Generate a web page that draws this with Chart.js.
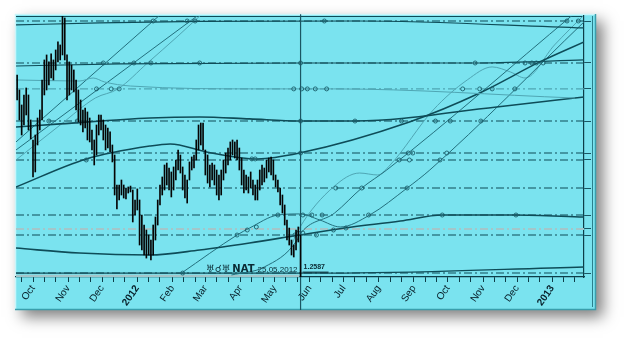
<!DOCTYPE html>
<html>
<head>
<meta charset="utf-8">
<script src="https://cdn.jsdelivr.net/npm/chart.js@4/dist/chart.umd.min.js"></script>
<style>
  html, body { margin: 0; padding: 0; background: #ffffff; }
  #chart { display: block; }
</style>
</head>
<body>
<canvas id="chart" width="625" height="339"></canvas>
<script>
// Trục thời gian: số ngày kể từ 01.10.2011
const dayMin = -15;
const dayMax = 486;
const monthLabels = ['Oct', 'Nov', 'Dec', '2012', 'Feb', 'Mar', 'Apr', 'May', 'Jun', 'Jul', 'Aug', 'Sep', 'Oct', 'Nov', 'Dec', '2013'];
const monthStartDays = [0, 31, 61, 92, 123, 152, 183, 213, 244, 274, 305, 336, 366, 397, 427, 458];

// Trục giá
const priceMin = 1.2512;
const priceMax = 1.4234;

// Giá (thanh cao - thấp), mỗi 2 ngày
const priceDays = [-14, -12, -10, -8, -6, -4, -2, 0, 2, 4, 6, 8, 10, 12, 14, 16, 18, 20, 22, 24,
  26, 28, 30, 32, 34, 36, 38, 40, 42, 44, 46, 48, 50, 52, 54, 56, 58, 60, 62, 64,
  66, 68, 70, 72, 74, 76, 78, 80, 82, 84, 86, 88, 90, 92, 94, 96, 98, 100, 102, 104,
  106, 108, 110, 112, 114, 116, 118, 120, 122, 124, 126, 128, 130, 132, 134, 136, 138, 140, 142, 144,
  146, 148, 150, 152, 154, 156, 158, 160, 162, 164, 166, 168, 170, 172, 174, 176, 178, 180, 182, 184,
  186, 188, 190, 192, 194, 196, 198, 200, 202, 204, 206, 208, 210, 212, 214, 216, 218, 220, 222, 224,
  226, 228, 230, 232, 234, 236];
const priceHigh = [1.3845, 1.3746, 1.3647, 1.3713, 1.3759, 1.3713, 1.3548, 1.3416, 1.3449, 1.3561, 1.3614, 1.3812, 1.3944, 1.3977, 1.3931, 1.3984, 1.3944, 1.4010, 1.4063, 1.4043,
  1.4241, 1.4221, 1.3977, 1.3931, 1.3911, 1.3878, 1.3812, 1.3746, 1.3680, 1.3614, 1.3627, 1.3601, 1.3561, 1.3482, 1.3416, 1.3515, 1.3581, 1.3581, 1.3548, 1.3515,
  1.3495, 1.3469, 1.3383, 1.3317, 1.3119, 1.3119, 1.3152, 1.3119, 1.3099, 1.3106, 1.3112, 1.3086, 1.3020, 1.3093, 1.3020, 1.2921, 1.2855, 1.2822, 1.2789, 1.2756,
  1.2855, 1.2908, 1.3020, 1.3119, 1.3172, 1.3251, 1.3264, 1.3231, 1.3205, 1.3238, 1.3284, 1.3350, 1.3317, 1.3238, 1.3185, 1.3152, 1.3271, 1.3304, 1.3317, 1.3416,
  1.3515, 1.3528, 1.3528, 1.3350, 1.3317, 1.3251, 1.3264, 1.3251, 1.3218, 1.3185, 1.3218, 1.3284, 1.3330, 1.3363, 1.3403, 1.3416, 1.3403, 1.3416, 1.3363, 1.3297,
  1.3218, 1.3185, 1.3172, 1.3205, 1.3152, 1.3119, 1.3152, 1.3218, 1.3251, 1.3231, 1.3284, 1.3297, 1.3304, 1.3284, 1.3185, 1.3152, 1.3099, 1.3053, 1.2987, 1.2888,
  1.2835, 1.2756, 1.2723, 1.2822, 1.2842, 1.2789];
const priceLow = [1.3680, 1.3548, 1.3449, 1.3515, 1.3581, 1.3482, 1.3423, 1.3172, 1.3205, 1.3383, 1.3482, 1.3548, 1.3713, 1.3746, 1.3779, 1.3825, 1.3812, 1.3878, 1.3931, 1.3944,
  1.3977, 1.3944, 1.3680, 1.3713, 1.3746, 1.3733, 1.3614, 1.3535, 1.3515, 1.3469, 1.3495, 1.3416, 1.3403, 1.3350, 1.3251, 1.3317, 1.3449, 1.3482, 1.3416, 1.3350,
  1.3363, 1.3337, 1.3271, 1.3053, 1.2961, 1.3020, 1.3053, 1.3033, 1.3027, 1.3066, 1.3073, 1.2875, 1.2921, 1.2954, 1.2723, 1.2690, 1.2657, 1.2637, 1.2657, 1.2624,
  1.2657, 1.2756, 1.2855, 1.2987, 1.3053, 1.3086, 1.3119, 1.3086, 1.3040, 1.3086, 1.3152, 1.3218, 1.3198, 1.3086, 1.3033, 1.3000, 1.3152, 1.3218, 1.3231, 1.3284,
  1.3350, 1.3383, 1.3350, 1.3185, 1.3132, 1.3106, 1.3152, 1.3119, 1.3053, 1.3020, 1.3053, 1.3152, 1.3198, 1.3251, 1.3284, 1.3317, 1.3297, 1.3284, 1.3218, 1.3119,
  1.3066, 1.3086, 1.3066, 1.3099, 1.3053, 1.3020, 1.3020, 1.3086, 1.3119, 1.3139, 1.3165, 1.3205, 1.3185, 1.3152, 1.3106, 1.3073, 1.2987, 1.2934, 1.2855, 1.2756,
  1.2723, 1.2657, 1.2644, 1.2690, 1.2743, 1.2512];

// Các mức ngang
const levelPrices = [1.4201, 1.3924, 1.3753, 1.3541, 1.3330, 1.3284, 1.3099, 1.2921, 1.2829, 1.2789, 1.2538];
const levelKinds = ['dark', 'dark', 'light', 'dark', 'dark', 'dark', 'dark', 'dark', 'pale', 'dark', 'dark'];

// Các đường cong
const c1Days = [-15, 59, 147, 286, 486];
const c1Prices = [1.4175, 1.4188, 1.4198, 1.4201, 1.4155];
const c2Days = [-15, 77, 235, 394, 486];
const c2Prices = [1.3904, 1.3918, 1.3924, 1.3924, 1.3944];
const c3Days = [-15, 41, 53, 63, 86, 200, 265, 478];
const c3Prices = [1.3812, 1.3805, 1.3825, 1.3799, 1.3772, 1.3753, 1.3753, 1.3693];
const c4Days = [-15, 24, 103, 147, 191, 235, 284, 409, 486];
const c4Prices = [1.3502, 1.3522, 1.3561, 1.3568, 1.3555, 1.3541, 1.3541, 1.3634, 1.3700];
const c5Days = [-15, 47, 103, 121, 153, 198, 235, 332, 394, 447, 486];
const c5Prices = [1.3106, 1.3291, 1.3376, 1.3390, 1.3337, 1.3291, 1.3330, 1.3535, 1.3726, 1.3931, 1.4063];
const c6Days = [-15, 41, 103, 147, 191, 235, 275, 324, 361, 425, 486];
const c6Prices = [1.2703, 1.2670, 1.2657, 1.2690, 1.2736, 1.2789, 1.2835, 1.2881, 1.2921, 1.2921, 1.2908];
const c7Days = [131, 180, 191, 216, 235, 253, 271, 297, 330, 350, 486];
const c7Prices = [1.2538, 1.2789, 1.2835, 1.2921, 1.2928, 1.2888, 1.2842, 1.2921, 1.3099, 1.3218, 1.4195];
const c8Days = [175, 204, 233, 235, 266, 290, 312, 476];
const c8Prices = [1.2525, 1.2578, 1.2756, 1.2789, 1.2934, 1.3099, 1.3218, 1.4241];
const c9Days = [228, 235, 265, 288, 304, 315, 353, 383, 405, 421, 434, 460, 486];
const c9Prices = [1.2723, 1.2835, 1.3106, 1.3198, 1.3185, 1.3251, 1.3614, 1.3812, 1.3898, 1.3865, 1.3825, 1.4043, 1.4241];
const d1Days = [-15, 112];
const d1Prices = [1.3403, 1.4241];
const d2Days = [-15, 146];
const d2Prices = [1.3350, 1.4241];
const d3Days = [-15, 24, 55, 75, 101, 127, 150];
const d3Prices = [1.3284, 1.3515, 1.3693, 1.3753, 1.3924, 1.4096, 1.4254];
const b1Days = [-15, 275, 486];
const b1Prices = [1.2538, 1.2538, 1.2578];
const b2Days = [-15, 235];
const b2Prices = [1.2518, 1.2518];

// Các điểm tròn nhỏ
const markerDays = [106, 136, 143, 257, 471, 481,
  62, 89, 104, 147, 236, 390, 434, 440, 444, 450,
  56, 69, 76, 230, 237, 242, 249, 259, 379, 394, 405, 425,
  14, 39, 236, 284, 325, 355, 368, 395,
  236, 331, 335, 365, 47, 323, 332, 359,
  267, 290, 330,
  216, 238, 246, 255, 296, 361, 426,
  180, 189, 197, 231, 234, 238, 250, 265, 276,
  193, 196, 132];
const markerPrices = [1.4201, 1.4201, 1.4201, 1.4201, 1.4201, 1.4201,
  1.3924, 1.3924, 1.3924, 1.3924, 1.3924, 1.3924, 1.3924, 1.3924, 1.3924, 1.3924,
  1.3753, 1.3753, 1.3753, 1.3753, 1.3753, 1.3753, 1.3753, 1.3753, 1.3753, 1.3753, 1.3753, 1.3753,
  1.3541, 1.3541, 1.3541, 1.3541, 1.3541, 1.3541, 1.3541, 1.3541,
  1.3330, 1.3330, 1.3330, 1.3330, 1.3284, 1.3284, 1.3284, 1.3284,
  1.3099, 1.3099, 1.3099,
  1.2921, 1.2921, 1.2921, 1.2921, 1.2921, 1.2921, 1.2921,
  1.2789, 1.2822, 1.2842, 1.2789, 1.2802, 1.2802, 1.2789, 1.2822, 1.2835,
  1.3291, 1.3291, 1.2538];

// Sự kiện
const eventDay = 236;
const eventPrice = 1.2587;
const eventLineTop = 1.4245;
const eventLineBottom = 1.2295;
const eventSymbol = '♅☌♅';
const eventName = 'NAT';
const eventDate = '25.05.2012';
const eventValue = '1.2587';

const darkLine = '#0e4c58';
const midLine = '#23707e';
const lightLine = '#4fa6b4';
const paleLine = '#a3c6ca';

function toPoints(days, prices) {
    return days.map((d, i) => ({ x: d, y: prices[i] }));
}

function curve(days, prices, color, width) {
    return {
        type: 'line',
        data: toPoints(days, prices),
        borderColor: color,
        borderWidth: width,
        pointRadius: 0,
        fill: false,
        cubicInterpolationMode: 'monotone'
    };
}

// Các mức ngang dạng gạch - chấm
const levelSets = levelPrices.map((p, i) => {
    const kind = levelKinds[i];
    return {
        type: 'line',
        data: [{ x: dayMin, y: p }, { x: dayMax, y: p }],
        borderColor: kind === 'dark' ? darkLine : (kind === 'light' ? lightLine : paleLine),
        borderWidth: kind === 'pale' ? 2 : 1.1,
        borderDash: [8, 3, 2, 3],
        pointRadius: 0,
        fill: false
    };
});

// Ticks trục x: đầu tháng + ngày 11, 21
const xTickDays = [-10];
monthStartDays.forEach(d => {
    xTickDays.push(d, d + 10, d + 20);
});

// Plugin vẽ khung nền
const panelPlugin = {
    id: 'panel',
    beforeDraw(chart) {
        const ctx = chart.ctx;
        const ca = chart.chartArea;
        const L = ca.left - 1, T = ca.top - 2, R = ca.right + 12, B = ca.bottom + 33;
        ctx.save();
        ctx.shadowColor = 'rgba(0,0,0,0.5)';
        ctx.shadowBlur = 14;
        ctx.shadowOffsetX = 7;
        ctx.shadowOffsetY = 7;
        ctx.fillStyle = '#7ae3ef';
        ctx.fillRect(L, T, R - L, B - T);
        ctx.restore();
        ctx.save();
        ctx.lineWidth = 1.5;
        ctx.strokeStyle = '#c9f5fa';
        ctx.beginPath();
        ctx.moveTo(L + 0.5, B);
        ctx.lineTo(L + 0.5, T + 0.5);
        ctx.lineTo(R, T + 0.5);
        ctx.stroke();
        ctx.strokeStyle = '#3a9eac';
        ctx.beginPath();
        ctx.moveTo(R - 0.5, T);
        ctx.lineTo(R - 0.5, B - 0.5);
        ctx.lineTo(L, B - 0.5);
        ctx.stroke();
        ctx.lineWidth = 1;
        ctx.strokeStyle = '#2b7f8c';
        ctx.beginPath();
        ctx.moveTo(R - 3.5, T + 2);
        ctx.lineTo(R - 3.5, B - 3);
        ctx.stroke();
        ctx.strokeStyle = darkLine;
        ctx.beginPath();
        ctx.moveTo(ca.left, ca.top + 0.5);
        ctx.lineTo(ca.right, ca.top + 0.5);
        ctx.stroke();
        ctx.restore();
    },
    afterDatasetsDraw(chart) {
        const ctx = chart.ctx;
        const x = chart.scales.x.getPixelForValue(eventDay);
        const y = chart.scales.y.getPixelForValue(eventPrice);
        ctx.save();
        ctx.fillStyle = '#0a2a33';
        ctx.textBaseline = 'alphabetic';
        ctx.textAlign = 'right';
        ctx.font = '8px "Liberation Sans", Arial, sans-serif';
        ctx.fillText(eventDate, x - 3, y + 6);
        const dateW = ctx.measureText(eventDate).width;
        ctx.font = 'bold 10px "DejaVu Sans", sans-serif';
        ctx.fillText(eventName, x - dateW - 6, y + 6);
        const nameW = ctx.measureText(eventName).width;
        ctx.fillText(eventSymbol, x - dateW - nameW - 8, y + 6);
        ctx.textAlign = 'left';
        ctx.font = 'bold 7px "Liberation Sans", Arial, sans-serif';
        ctx.fillText(eventValue, x + 3, y + 3);
        ctx.strokeStyle = '#0a2a33';
        ctx.lineWidth = 1;
        ctx.beginPath();
        ctx.moveTo(x + 2, y + 6.5);
        ctx.lineTo(x + 28, y + 6.5);
        ctx.stroke();
        ctx.restore();
    }
};

const ctx = document.getElementById('chart').getContext('2d');
new Chart(ctx, {
    type: 'line',
    data: {
        datasets: [
            {
                type: 'bar',
                data: priceDays.map((d, i) => ({ x: d, y: [priceLow[i], priceHigh[i]] })),
                backgroundColor: '#050505',
                borderWidth: 0,
                barThickness: 1
            },
            {
                type: 'line',
                data: [{ x: eventDay, y: eventLineTop }, { x: eventDay, y: eventLineBottom }],
                borderColor: '#1a5663',
                borderWidth: 1.2,
                pointRadius: 0,
                clip: false
            },
            {
                type: 'scatter',
                data: toPoints(markerDays, markerPrices),
                pointRadius: 2,
                pointBorderWidth: 0.9,
                pointBorderColor: '#1b5f6b',
                pointBackgroundColor: 'rgba(0,0,0,0)',
                showLine: false
            },
            curve(c1Days, c1Prices, darkLine, 1.2),
            curve(c2Days, c2Prices, darkLine, 1.2),
            curve(c3Days, c3Prices, lightLine, 1),
            curve(c4Days, c4Prices, darkLine, 1.6),
            curve(c5Days, c5Prices, darkLine, 1.5),
            curve(c6Days, c6Prices, darkLine, 1.6),
            curve(c7Days, c7Prices, midLine, 1),
            curve(c8Days, c8Prices, midLine, 1),
            curve(c9Days, c9Prices, lightLine, 1),
            curve(d1Days, d1Prices, midLine, 1),
            curve(d2Days, d2Prices, midLine, 1),
            curve(d3Days, d3Prices, lightLine, 1),
            curve(b1Days, b1Prices, darkLine, 1.3),
            curve(b2Days, b2Prices, paleLine, 2.5),
            ...levelSets
        ]
    },
    options: {
        responsive: false,
        animation: false,
        events: [],
        layout: { padding: { left: 16, top: 16, right: 30, bottom: 29 } },
        plugins: {
            legend: { display: false },
            tooltip: { enabled: false }
        },
        scales: {
            x: {
                type: 'linear',
                min: dayMin,
                max: dayMax,
                offset: false,
                afterBuildTicks: (scale) => {
                    scale.ticks = xTickDays.filter(d => d >= dayMin && d <= dayMax).map(d => ({ value: d }));
                },
                afterFit: (scale) => { scale.height = 33; },
                grid: {
                    offset: false,
                    drawOnChartArea: false,
                    drawTicks: true,
                    tickLength: 5,
                    tickColor: '#0d3d48',
                    tickWidth: 1
                },
                border: { display: true, color: '#0d3d48', width: 1.2 },
                ticks: {
                    autoSkip: false,
                    minRotation: 55,
                    maxRotation: 55,
                    padding: 1,
                    color: '#08202a',
                    font: (c) => {
                        const v = c.tick ? c.tick.value : null;
                        const idx = monthStartDays.indexOf(v);
                        const bold = idx >= 0 && /^\d{4}$/.test(monthLabels[idx]);
                        return { family: '"Liberation Sans", Arial, sans-serif', size: 10, weight: bold ? 'bold' : 'normal' };
                    },
                    callback: (value) => {
                        const idx = monthStartDays.indexOf(value);
                        return idx >= 0 ? monthLabels[idx] : '';
                    }
                }
            },
            y: {
                type: 'linear',
                position: 'right',
                min: priceMin,
                max: priceMax,
                afterBuildTicks: (scale) => {
                    scale.ticks = levelPrices.map(p => ({ value: p }));
                },
                afterFit: (scale) => { scale.width = 11; },
                grid: {
                    drawOnChartArea: false,
                    drawTicks: true,
                    tickLength: 7,
                    tickColor: '#1a5663'
                },
                border: { display: true, color: '#0d3d48', width: 1.2 },
                ticks: { display: false }
            }
        }
    },
    plugins: [panelPlugin]
});
</script>
</body>
</html>
